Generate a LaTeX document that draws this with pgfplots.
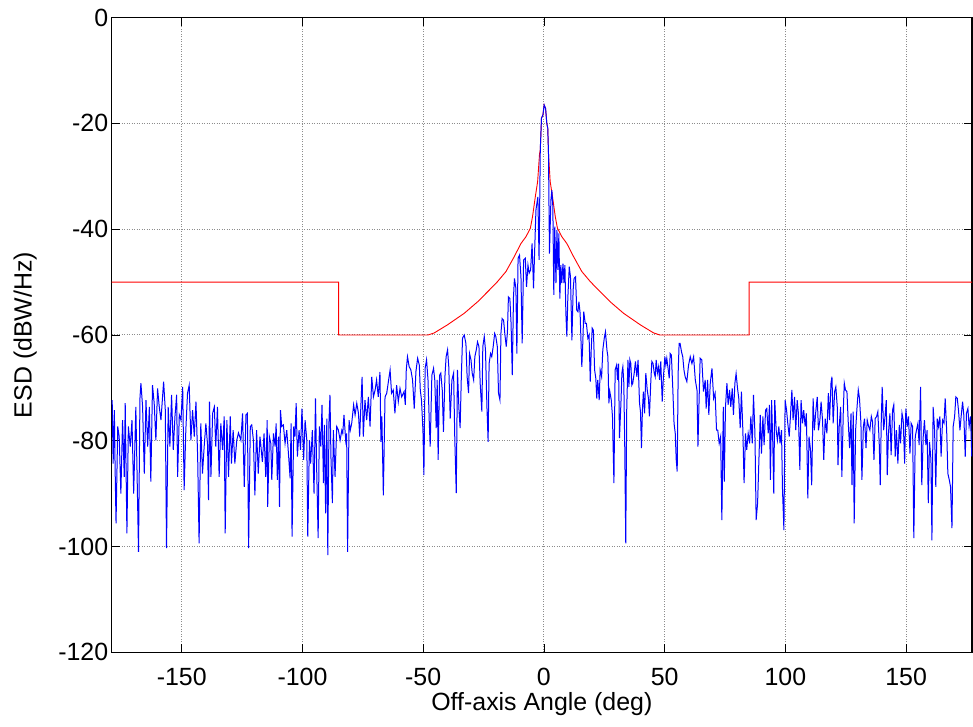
\documentclass[border=0pt]{standalone}
\usepackage{fontspec}
\setmainfont{Liberation Sans}
\usepackage{pgfplots}
\pgfplotsset{compat=1.18}
\begin{document}
\begin{tikzpicture}
\begin{axis}[
  scale only axis, width=860.3bp, height=634.8bp,
  xmin=-179, xmax=177.3, ymin=-120, ymax=0,
  xtick={-150,-100,-50,0,50,100,150},
  xticklabels={-150,-100,-50,0,50,100,150},
  ytick={-120,-100,-80,-60,-40,-20,0},
  yticklabels={-120,-100,-80,-60,-40,-20,0},
  tick align=inside, major tick length=8bp,
  tick style={black, line width=0.8bp},
  grid=major,
  grid style={black!45, line width=1bp, dash pattern=on 1bp off 1.5bp},
  axis line style={black, line width=1.2bp},
  ticklabel style={font=\fontsize{25}{30}\selectfont},
  xticklabel style={anchor=base, yshift=-32.6bp},
  xlabel={Off-axis Angle (deg)},
  ylabel={ESD (dBW/Hz)},
  xlabel style={at={(axis description cs:0.5,0)}, anchor=base, yshift=-57.6bp, font=\fontsize{25}{30}\selectfont},
  ylabel style={at={(axis description cs:-0.093,0.5)}, anchor=base, font=\fontsize{25}{30}\selectfont},
]
\coordinate (sw) at (rel axis cs:0,0);
\coordinate (ne) at (rel axis cs:1,1);
% mask
\addplot[red, line width=0.9bp] coordinates {
(-179,-50)(-85,-50)(-85,-60)(-48,-60)(-45.4,-59.6)(-40,-58.1)(-33,-55.9)(-27.4,-53.7)(-22.6,-51.5)(-19.2,-49.9)(-15.7,-48.0)(-12.3,-45.2)(-9.5,-42.7)(-7.4,-41.4)(-5.6,-39.8)(-4.7,-37.6)(-3.6,-34.0)(-2.6,-31.0)(-1.8,-25.7)(-1.5,-25.0)(-1.0,-19.0)(-0.4,-18.4)(0.1,-16.5)(0.7,-17.2)(1.2,-20.0)(1.6,-20.9)(1.9,-25.7)(2.6,-31.0)(3.6,-34.0)(4.7,-37.6)(5.6,-39.8)(7.4,-41.4)(9.5,-42.7)(12.3,-45.2)(15.7,-48.0)(19.2,-49.9)(22.6,-51.5)(27.4,-53.7)(33,-55.9)(40,-58.1)(45.4,-59.6)(48,-60)(85,-60)(85,-50)(177.3,-50)
};
% measured ESD
\addplot[blue, line width=1bp] coordinates {
(-178.8,-72.3)(-178.4,-84.3)(-177.9,-74.2)(-177.6,-84.9)(-177.2,-95.6)(-176.5,-77.3)(-175.9,-79.2)(-175.2,-90.0)(-174.5,-76.1)(-173.8,-86.8)(-173.4,-72.9)(-172.7,-97.5)(-172.1,-77.3)(-171.3,-81.1)(-170.6,-76.1)(-169.9,-90.0)(-169.0,-73.6)(-167.9,-101.0)(-167.3,-72.0)(-166.9,-69.1)(-166.2,-73.6)(-165.5,-86.2)(-164.8,-72.3)(-164.1,-81.1)(-163.4,-73.6)(-162.8,-87.7)(-162.1,-69.5)(-161.4,-72.9)(-160.7,-79.9)(-160.0,-70.1)(-159.3,-73.6)(-158.6,-76.1)(-157.5,-68.8)(-156.8,-74.2)(-156.3,-100.3)(-155.6,-73.6)(-154.9,-81.1)(-154.2,-71.3)(-153.5,-81.7)(-152.8,-75.4)(-152.1,-71.3)(-151.7,-86.8)(-151.0,-75.1)(-150.3,-76.1)(-149.6,-69.8)(-149.0,-89.3)(-148.3,-78.0)(-147.6,-71.0)(-146.9,-69.5)(-146.2,-79.9)(-145.5,-74.2)(-144.8,-79.2)(-144.1,-72.6)(-143.4,-83.0)(-142.8,-99.4)(-142.1,-76.7)(-141.4,-86.2)(-140.7,-81.1)(-140.0,-76.7)(-139.3,-80.8)(-138.9,-91.2)(-138.5,-72.6)(-137.9,-86.8)(-137.2,-74.8)(-136.5,-73.6)(-135.9,-81.1)(-135.2,-73.6)(-134.5,-86.8)(-133.8,-76.7)(-133.1,-81.7)(-132.4,-75.4)(-132.0,-97.5)(-131.3,-76.1)(-130.6,-86.8)(-129.9,-75.4)(-129.4,-84.3)(-128.7,-78.0)(-128.0,-84.3)(-127.2,-79.9)(-126.5,-78.5)(-125.5,-79.9)(-124.8,-74.8)(-124.1,-88.7)(-123.4,-75.1)(-122.8,-74.8)(-122.3,-100.3)(-121.6,-77.3)(-121.0,-77.0)(-120.3,-79.9)(-119.7,-90.3)(-119.0,-78.0)(-118.3,-86.2)(-117.6,-79.2)
(-117.3,-80.5)(-116.6,-84.0)(-115.9,-78.6)(-115.2,-86.8)(-114.6,-76.1)(-114.4,-92.5)(-113.7,-79.2)(-113.1,-80.5)(-112.7,-87.4)(-112.0,-78.6)(-111.3,-81.1)(-110.9,-76.7)(-110.4,-87.4)(-109.9,-79.2)(-109.5,-92.5)(-109.1,-74.2)(-108.6,-77.3)(-107.9,-77.0)(-107.2,-80.5)(-106.5,-78.0)(-105.8,-82.4)(-105.1,-87.1)(-104.7,-76.7)(-104.3,-98.1)(-103.6,-77.3)(-103.1,-79.2)(-102.6,-72.9)(-102.1,-83.0)(-101.4,-78.0)(-100.8,-81.7)(-100.2,-73.9)(-99.5,-83.6)(-98.9,-76.1)(-98.2,-79.9)(-97.8,-98.1)(-97.1,-79.9)(-96.6,-84.3)(-95.9,-78.0)(-95.2,-90.0)(-94.6,-72.0)(-94.1,-85.5)(-93.5,-98.4)(-93.0,-77.3)(-92.4,-81.1)(-91.9,-73.2)(-91.3,-88.0)(-90.9,-77.0)(-90.4,-93.7)(-89.9,-75.8)(-89.5,-101.6)(-89.0,-76.1)(-88.6,-71.3)(-88.2,-83.0)(-87.6,-91.8)(-87.2,-78.0)(-86.5,-86.8)(-85.8,-77.3)(-85.1,-78.0)(-84.4,-79.9)(-83.7,-78.0)(-83.3,-78.6)(-82.8,-75.1)(-82.1,-79.9)(-81.7,-78.6)(-81.3,-101.0)(-80.7,-76.1)(-80.2,-78.0)(-79.6,-76.7)(-78.8,-73.2)(-78.2,-75.1)(-77.5,-72.9)(-76.8,-74.8)(-76.3,-79.2)(-75.7,-72.3)(-75.3,-67.9)(-74.8,-79.2)(-74.1,-72.3)(-73.4,-76.1)(-72.7,-71.7)(-72.0,-77.3)(-71.3,-67.9)(-70.6,-71.7)(-69.9,-70.4)(-69.3,-68.5)(-68.6,-71.7)(-67.9,-67.0)(-67.5,-80.2)(-67.1,-75.4)(-66.5,-90.3)(-65.8,-71.7)(-65.1,-71.0)(-64.4,-68.8)(-63.7,-66.6)(-63.1,-71.0)(-62.4,-70.4)(-61.7,-74.8)(-61.0,-69.5)(-60.3,-72.6)(-59.6,-70.1)(-58.9,-71.7)(-57.9,-70.7)
(-57.4,-73.2)(-57.0,-66.6)(-56.5,-64.1)(-55.8,-66.0)(-55.1,-66.6)(-54.4,-68.5)(-53.7,-73.9)(-53.0,-66.9)(-52.3,-64.4)(-51.6,-65.7)(-51.2,-70.4)(-50.7,-72.3)(-50.1,-78.0)(-49.7,-86.5)(-49.2,-66.3)(-48.6,-64.7)(-48.0,-68.5)(-47.5,-76.1)(-47.1,-81.1)(-46.4,-67.6)(-45.7,-66.3)(-45.2,-68.5)(-44.6,-77.6)(-44.2,-68.5)(-43.8,-83.6)(-43.2,-67.6)(-42.7,-67.2)(-42.1,-70.4)(-41.6,-78.3)(-41.0,-67.9)(-40.5,-64.1)(-39.9,-62.8)(-39.4,-66.0)(-38.8,-75.8)(-38.1,-68.5)(-37.4,-67.2)(-36.9,-79.8)(-36.3,-89.9)(-35.8,-66.6)(-35.2,-73.9)(-34.7,-77.6)(-34.2,-67.9)(-33.7,-60.6)(-33.0,-60.0)(-32.3,-61.6)(-31.8,-67.9)(-31.2,-71.0)(-30.8,-63.5)(-30.2,-64.7)(-29.7,-67.2)(-29.1,-68.5)(-28.6,-64.1)(-28.0,-62.8)(-27.5,-61.3)(-26.9,-62.2)(-26.4,-69.1)(-25.7,-74.5)(-25.3,-62.2)(-24.7,-60.3)(-24.2,-62.8)(-23.6,-73.5)(-23.1,-80.2)(-22.7,-65.4)(-22.1,-63.5)(-21.6,-64.1)(-21.0,-62.2)(-20.4,-59.7)(-19.9,-60.3)(-19.3,-62.2)(-18.8,-71.0)(-18.2,-72.3)(-17.8,-59.7)(-17.3,-56.9)(-16.7,-57.2)(-16.2,-59.7)(-15.6,-62.2)(-15.1,-59.4)(-14.7,-52.8)(-14.1,-53.1)(-13.6,-57.8)(-13.1,-67.6)(-12.6,-52.8)(-12.2,-49.3)(-11.6,-51.2)(-11.2,-63.5)(-10.7,-45.5)(-10.1,-44.9)(-9.5,-49.0)(-9.0,-61.6)(-8.4,-45.8)(-7.7,-45.5)(-7.2,-50.9)(-6.6,-46.8)(-6.1,-48.3)(-5.5,-47.7)(-4.9,-42.7)(-4.3,-51.2)(-3.8,-43.6)(-3.3,-36.4)(-2.9,-35.1)(-2.5,-33.9)(-2.0,-45.8)(-1.5,-25.0)(-1.0,-19.0)(-0.4,-18.4)(0.1,-16.5)(0.7,-17.2)(1.2,-20.0)(1.6,-20.9)(1.9,-25.7)(2.3,-44.6)
(2.9,-34.5)(3.3,-32.6)(3.7,-35.7)(4.1,-52.4)(4.5,-39.5)(5.0,-50.2)(5.4,-40.2)(5.8,-47.7)(6.2,-40.8)(6.6,-53.1)(7.0,-46.8)(7.4,-50.2)(7.9,-46.5)(8.3,-50.2)(8.7,-46.8)(9.1,-55.9)(9.5,-60.3)(9.9,-53.1)(10.5,-47.1)(11.0,-49.0)(11.6,-61.0)(12.1,-51.5)(12.5,-49.3)(13.1,-49.0)(13.6,-55.3)(14.1,-55.6)(14.5,-53.7)(15.0,-55.9)(15.7,-66.0)(16.1,-61.6)(16.5,-55.6)(17.1,-57.8)(17.6,-57.8)(18.2,-60.6)(18.7,-60.0)(19.2,-68.8)(19.6,-62.8)(20.0,-58.7)(20.5,-59.1)(21.0,-66.6)(21.5,-68.2)(21.9,-72.0)(22.3,-68.5)(22.9,-72.3)(23.3,-66.6)(23.9,-67.9)(24.4,-62.8)(25.0,-60.6)(25.5,-59.4)(26.1,-62.8)(26.5,-64.1)(26.9,-72.9)(27.3,-70.7)(27.9,-72.3)(28.4,-75.4)(29.0,-88.0)(29.5,-66.6)(30.1,-65.7)(30.5,-68.5)(30.9,-65.4)(31.3,-79.5)(31.9,-72.9)(32.3,-67.2)(32.7,-66.0)(33.1,-69.1)(33.5,-81.7)(33.9,-99.4)(34.3,-74.2)(34.8,-64.7)(35.2,-69.8)(35.6,-64.7)(36.0,-65.4)(36.4,-69.5)(36.8,-69.1)(37.4,-67.2)(37.9,-65.0)(38.5,-67.9)(39.0,-64.7)(39.6,-72.9)(40.0,-74.5)(40.4,-81.4)(40.8,-74.2)(41.2,-70.7)(41.7,-74.8)(42.2,-67.2)(42.8,-70.4)(43.3,-72.0)(43.7,-75.4)(44.3,-68.5)(44.7,-65.0)(45.2,-65.4)(45.7,-67.2)(46.1,-67.9)(46.5,-64.7)(47.0,-67.2)(47.5,-66.0)(47.9,-68.5)(48.4,-65.0)(49.0,-72.6)(49.5,-67.9)(50.1,-64.1)(50.5,-65.7)(50.9,-64.4)(51.5,-66.6)(51.9,-68.2)(52.3,-63.5)(52.8,-63.8)(53.4,-70.4)(53.9,-76.7)(54.4,-78.6)(54.8,-83.6)(55.2,-85.8)(55.6,-67.2)(56.0,-61.6)(56.4,-61.6)(57.0,-63.2)(57.5,-64.1)(58.0,-66.6)(58.5,-67.9)
(59.2,-68.8)(59.9,-65.7)(60.6,-64.1)(61.3,-65.4)(62.0,-64.1)(62.7,-68.5)(63.4,-70.4)(63.8,-81.1)(64.3,-71.7)(64.7,-64.4)(65.4,-64.7)(66.1,-70.7)(66.8,-68.5)(67.2,-73.9)(67.8,-68.5)(68.3,-75.1)(68.9,-69.1)(69.6,-66.3)(70.3,-72.0)(70.9,-71.0)(71.5,-78.0)(72.0,-78.0)(72.6,-80.5)(73.2,-79.2)(73.7,-95.0)(74.3,-73.6)(74.7,-87.7)(75.2,-73.6)(75.8,-69.1)(76.3,-73.2)(76.9,-70.4)(77.4,-73.6)(78.0,-70.1)(78.5,-75.1)(79.1,-69.1)(79.6,-67.3)(80.2,-70.1)(80.7,-72.0)(81.3,-77.6)(81.8,-70.7)(82.4,-78.0)(82.9,-88.0)(83.5,-78.6)(84.0,-81.7)(84.6,-78.6)(85.2,-80.5)(85.7,-75.4)(86.3,-80.5)(86.8,-71.3)(87.4,-78.6)(87.9,-95.0)(88.5,-91.8)(89.0,-84.3)(89.6,-75.1)(90.1,-82.4)(90.7,-75.4)(91.2,-80.8)(91.8,-74.2)(92.3,-73.9)(92.9,-78.6)(93.4,-73.2)(93.8,-87.4)(94.3,-72.3)(94.8,-80.5)(95.2,-90.0)(95.6,-72.3)(96.2,-78.0)(96.7,-79.9)(97.3,-77.3)(97.8,-80.5)(98.4,-78.0)(98.8,-89.0)(99.4,-96.9)(99.9,-72.3)(100.5,-74.2)(101.0,-76.7)(101.6,-79.2)(102.1,-75.4)(102.7,-70.4)(103.2,-76.1)(103.8,-71.7)(104.3,-78.0)(104.9,-72.3)(105.4,-74.8)(106.0,-85.5)(106.5,-72.3)(107.1,-76.7)(107.6,-74.2)(108.2,-77.3)(108.7,-74.8)(109.3,-90.9)(109.8,-79.2)(110.4,-81.7)(110.9,-88.4)(111.5,-72.0)(112.0,-78.0)(112.6,-74.5)(113.2,-71.7)(113.7,-78.0)(114.3,-76.1)(114.8,-72.6)(115.4,-76.1)(115.9,-83.6)(116.5,-75.8)
(117.2,-78.6)(117.8,-71.0)(118.3,-76.1)(118.9,-69.1)(119.3,-67.9)(119.8,-76.7)(120.4,-70.7)(120.9,-69.8)(121.5,-73.6)(121.8,-84.6)(122.3,-77.3)(122.9,-73.6)(123.4,-86.8)(124.0,-74.2)(124.4,-69.1)(124.9,-70.4)(125.5,-70.7)(126.0,-76.1)(126.6,-81.4)(127.2,-74.8)(127.6,-88.4)(128.1,-74.5)(128.5,-95.6)(129.1,-78.0)(129.6,-74.2)(130.2,-70.4)(130.7,-72.0)(131.3,-76.7)(131.7,-87.4)(132.3,-77.3)(132.8,-75.8)(133.4,-81.4)(133.9,-76.1)(134.5,-77.3)(135.0,-78.0)(135.6,-75.4)(136.1,-76.4)(136.7,-83.6)(137.2,-75.8)(137.8,-75.4)(138.3,-74.5)(138.9,-80.8)(139.3,-88.4)(139.7,-76.7)(140.1,-69.8)(140.7,-78.0)(141.2,-75.8)(141.8,-72.3)(142.2,-86.5)(142.7,-78.6)(143.3,-74.8)(143.8,-82.7)(144.4,-74.2)(144.9,-73.2)(145.5,-83.0)(146.0,-78.0)(146.6,-84.3)(147.2,-77.0)(147.7,-80.5)(148.3,-74.8)(148.8,-76.1)(149.4,-84.3)(149.9,-73.9)(150.5,-77.3)(151.0,-75.4)(151.6,-82.4)(152.1,-76.7)(152.7,-77.3)(153.2,-98.4)(153.8,-79.2)(154.3,-78.0)(154.9,-76.7)(155.4,-80.8)(156.0,-69.8)(156.5,-88.4)(157.1,-79.2)(157.6,-76.1)(158.2,-80.8)(158.7,-78.0)(159.2,-91.8)(159.7,-80.2)(160.3,-83.6)(160.7,-98.8)(161.2,-73.6)(161.8,-78.0)(162.3,-88.7)(162.9,-75.8)(163.4,-77.3)(164.0,-75.4)(164.5,-83.0)(165.1,-76.1)(165.7,-76.7)(166.2,-72.0)(166.8,-78.0)(167.3,-86.2)(167.9,-87.4)(168.4,-88.7)(169.0,-96.5)(169.5,-77.3)(170.1,-75.4)(170.6,-71.7)(171.2,-72.0)(171.7,-74.2)(172.3,-78.0)(172.8,-75.4)(173.4,-72.6)(173.9,-75.1)(174.5,-83.0)(175.0,-74.8)(175.6,-73.9)(176.1,-77.3)(176.7,-75.4)(177.2,-83.0)
};
\end{axis}
\pgfresetboundingbox
\path[use as bounding box] ([shift={(-111.7bp,-74.6bp)}]sw) rectangle ([shift={(1bp,17.6bp)}]ne);
\end{tikzpicture}
\end{document}
